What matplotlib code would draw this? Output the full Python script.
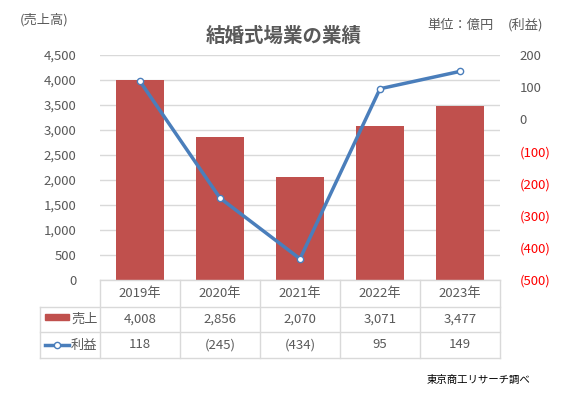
import matplotlib.pyplot as plt
import matplotlib.transforms as mtransforms
from matplotlib.patches import Rectangle
from matplotlib.lines import Line2D

plt.rcParams['font.family'] = ['Noto Sans CJK JP', 'DejaVu Sans']

# data (億円)
years = ["2019年", "2020年", "2021年", "2022年", "2023年"]
sales = [4008, 2856, 2070, 3071, 3477]
profit = [118, -245, -434, 95, 149]
sales_labels = ["4,008", "2,856", "2,070", "3,071", "3,477"]
profit_labels = ["118", "(245)", "(434)", "95", "149"]

bar_color = "#C0504D"
line_color = "#4A7EBB"
grid_color = "#D9D9D9"
text_color = "#595959"

W, H = 580, 396
fig = plt.figure(figsize=(W / 100, H / 100), dpi=100)
ax = fig.add_axes([100 / W, 1 - 280 / H, 400 / W, 225 / H])
ax2 = ax.twinx()

x = list(range(len(years)))
ax.bar(x, sales, width=0.59, color=bar_color, zorder=2)
ax.set_xlim(-0.5, len(years) - 0.5)
ax.set_ylim(0, 4500)
ax.set_yticks(range(0, 4501, 500))
ax.set_yticklabels([f"{v:,}" for v in range(0, 4501, 500)])
ax.yaxis.grid(True, color=grid_color, lw=1, zorder=0)
ax.set_axisbelow(True)
ax.set_xticks([])

ax2.plot(x, profit, color=line_color, lw=2.5, marker="o", markersize=4.5,
         markerfacecolor="white", markeredgecolor=line_color, markeredgewidth=1, zorder=3)
ax2.set_ylim(-500, 200)
rticks = list(range(-500, 201, 100))
ax2.set_yticks(rticks)
ax2.set_yticklabels([f"({-v})" if v < 0 else str(v) for v in rticks])

for a in (ax, ax2):
    for s in a.spines.values():
        s.set_visible(False)
    a.tick_params(length=0, labelsize=9.5, labelcolor=text_color)
ax.tick_params(axis="y", pad=17)
ax2.tick_params(axis="y", pad=14)
for lab, v in zip(ax2.get_yticklabels(), rticks):
    if v < 0:
        lab.set_color("#FF0000")

# data table under the plot
tr = mtransforms.blended_transform_factory(ax.transData, fig.transFigure)
ftr = fig.transFigure
def fy(py):
    return 1 - py / H

rows = [280, 306.5, 332, 358]
lw = 1
# horizontal lines
fig.add_artist(Line2D([100 / W, 500 / W], [fy(rows[0])] * 2, color=grid_color, lw=lw, transform=ftr))
for r in rows[1:]:
    fig.add_artist(Line2D([40 / W, 500 / W], [fy(r)] * 2, color=grid_color, lw=lw, transform=ftr))
# vertical lines
fig.add_artist(Line2D([40 / W] * 2, [fy(rows[1]), fy(rows[3])], color=grid_color, lw=lw, transform=ftr))
for i in range(len(years) + 1):
    fig.add_artist(Line2D([i - 0.5] * 2, [fy(rows[0]), fy(rows[3])], color=grid_color, lw=lw, transform=tr))

for i in x:
    for r, txt in zip(range(3), [years[i], sales_labels[i], profit_labels[i]]):
        fig.text(i, fy((rows[r] + rows[r + 1]) / 2), txt, transform=tr, ha="center", va="center",
                 fontsize=9.5, color=text_color)

# legend keys in table
fig.add_artist(Rectangle((45 / W, fy(319.5)), 24 / W, 6 / H, color=bar_color, transform=ftr))
fig.text(71 / W, fy(319.5), "売上", ha="left", va="center", fontsize=9.5, color=text_color)
fig.add_artist(Line2D([45 / W, 69 / W], [fy(345)] * 2, color=line_color, lw=2.5, transform=ftr))
fig.add_artist(Line2D([57 / W], [fy(345)], color=line_color, marker="o", markersize=4.5,
                      markerfacecolor="white", markeredgewidth=1, transform=ftr))
fig.text(71 / W, fy(345), "利益", ha="left", va="center", fontsize=9.5, color=text_color)

# titles and notes
fig.text(284 / W, fy(36), "結婚式場業の業績", ha="center", va="center", fontsize=14,
         fontweight="bold", color=text_color)
fig.text(20 / W, fy(20), "(売上高)", ha="left", va="center", fontsize=9.5, color=text_color)
fig.text(427 / W, fy(25), "単位：億円", ha="left", va="center", fontsize=9.5, color=text_color)
fig.text(543 / W, fy(25), "(利益)", ha="right", va="center", fontsize=9.5, color=text_color)
fig.text(530 / W, fy(380), "東京商工リサーチ調べ", ha="right", va="center", fontsize=7.5, color="black")

fig.savefig("out.png", dpi=100, facecolor="white")
